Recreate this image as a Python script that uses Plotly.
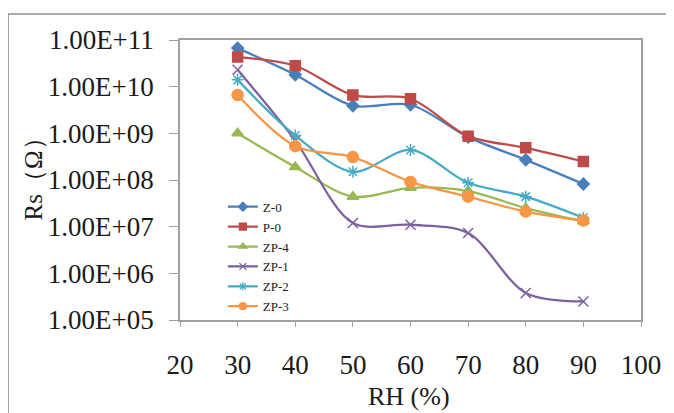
import plotly.graph_objects as go

rh = [30, 40, 50, 60, 70, 80, 90]
z0 = [6.7e10, 1.8e10, 3.9e9, 4.1e9, 8.3e8, 2.7e8, 8.2e7]
p0 = [4.3e10, 2.8e10, 6.6e9, 5.5e9, 8.7e8, 4.9e8, 2.5e8]
zp4 = [1.0e9, 1.9e8, 4.4e7, 6.8e7, 5.8e7, 2.5e7, 1.3e7]
zp1 = [2.3e10, 7.0e8, 1.2e7, 1.1e7, 7.3e6, 3.8e5, 2.5e5]
zp2 = [1.4e10, 9.0e8, 1.5e8, 4.4e8, 8.7e7, 4.4e7, 1.55e7]
zp3 = [6.6e9, 5.3e8, 3.1e8, 9.1e7, 4.4e7, 2.1e7, 1.35e7]

series_names = ["Z-0", "P-0", "ZP-4", "ZP-1", "ZP-2", "ZP-3"]
series_values = [z0, p0, zp4, zp1, zp2, zp3]
colors = ["#4A7EBB", "#BE4B48", "#98B954", "#7D60A0", "#46AAC5", "#F79646"]
symbols = ["diamond", "square", "triangle-up", "x-thin", "asterisk", "circle"]
sizes = [9, 10, 10, 10, 10, 11]

y_tickvals = [1e5, 1e6, 1e7, 1e8, 1e9, 1e10, 1e11]
y_ticktext = ["1.00E+05", "1.00E+06", "1.00E+07", "1.00E+08", "1.00E+09", "1.00E+10", "1.00E+11"]
x_tickvals = [20, 30, 40, 50, 60, 70, 80, 90, 100]

FONT = "Liberation Serif"

fig = go.Figure()
for name, vals, c, s, sz in zip(series_names, series_values, colors, symbols, sizes):
    fig.add_trace(go.Scatter(
        x=rh, y=vals, name=name, mode="lines+markers", showlegend=False,
        line=dict(color=c, width=2.25, shape="spline", smoothing=0.9),
        marker=dict(symbol=s, size=sz, color=c,
                    line=dict(color=c, width=1.5)),
    ))
# legend entries with the small markers of the reference legend
for name, c, s in zip(series_names, colors, symbols):
    fig.add_trace(go.Scatter(
        x=[None], y=[None], name=name, mode="lines+markers",
        line=dict(color=c, width=2.25),
        marker=dict(symbol=s, size=7, color=c, line=dict(color=c, width=1.2)),
    ))

# the page body has an 8px margin, so the figure is 8px smaller than the window
fig.update_layout(
    width=666, height=405,
    margin=dict(l=172, r=33, t=32, b=93),
    paper_bgcolor="white", plot_bgcolor="white",
    font=dict(family=FONT, color="#1a1a1a"),
    showlegend=True,
    legend=dict(x=0.093, y=0.458, xanchor="left", yanchor="top",
                bgcolor="rgba(0,0,0,0)", font=dict(size=13, family=FONT, color="#1a1a1a"),
                itemwidth=30, tracegroupgap=0),
    xaxis=dict(range=[20, 100], tickvals=x_tickvals, showgrid=False, zeroline=False,
               showline=True, linecolor="#a0a0a0", linewidth=1.5, mirror=True,
               ticks="outside", ticklen=5, tickcolor="#a0a0a0",
               tickfont=dict(size=27, family=FONT), ticklabelstandoff=15),
    yaxis=dict(type="log", range=[5, 11], tickvals=y_tickvals, ticktext=y_ticktext,
               showgrid=False, zeroline=False,
               showline=True, linecolor="#a0a0a0", linewidth=1.5, mirror=True,
               ticks="outside", ticklen=9, tickcolor="#a0a0a0",
               tickfont=dict(size=27, family=FONT), ticklabelstandoff=10),
    annotations=[
        dict(text="Rs（Ω）", xref="paper", yref="paper", x=-0.318, y=0.525,
             textangle=-90, showarrow=False, font=dict(size=25, family=FONT),
             xanchor="center", yanchor="middle"),
        dict(text="RH (%)", xref="paper", yref="paper", x=0.497, y=-0.274,
             showarrow=False, font=dict(size=26, family=FONT),
             xanchor="center", yanchor="middle"),
    ],
    shapes=[
        dict(type="rect", xref="paper", yref="paper", x0=-0.373, x1=1.104,
             y0=-0.36, y1=1.093, line=dict(color="#909090", width=1.5),
             fillcolor="rgba(0,0,0,0)", layer="below"),
    ],
)

fig.write_html("out.html")
